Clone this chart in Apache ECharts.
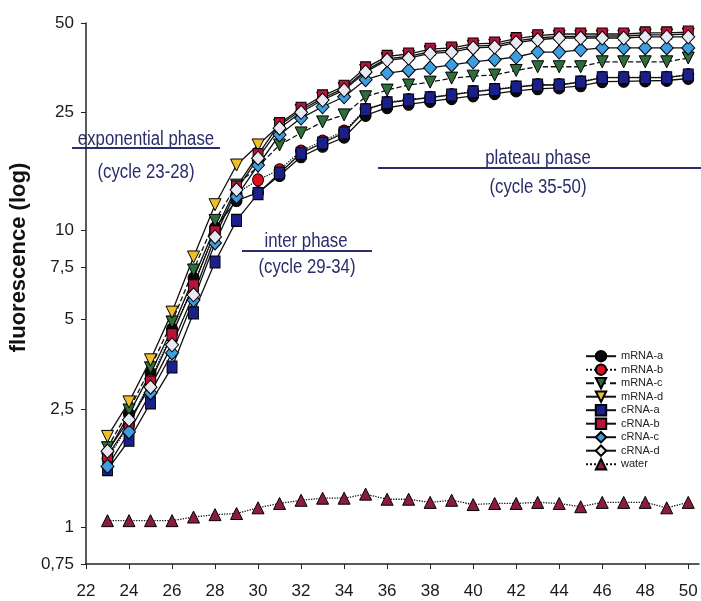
<!DOCTYPE html>
<html>
<head>
<meta charset="utf-8">
<script src="https://cdn.jsdelivr.net/npm/echarts@6/dist/echarts.min.js"></script>
<style>
  html, body { margin: 0; padding: 0; background: #fff; }
  #chart { width: 701px; height: 601px; }
</style>
</head>
<body>
<div id="chart"></div>
<script>
// cycle numbers on the x axis
const cycles = [23, 24, 25, 26, 27, 28, 29, 30, 31, 32, 33, 34, 35, 36, 37, 38, 39, 40, 41, 42, 43, 44, 45, 46, 47, 48, 49, 50]

const mRNA_a = [1.78, 2.40, 3.30, 4.65, 6.9, 10.2, 12.6, 13.4, 15.3, 17.7, 19.2, 20.6, 24.4, 25.9, 26.6, 27.2, 27.8, 28.4, 28.9, 29.5, 30.0, 30.2, 30.7, 31.7, 31.8, 31.9, 32.0, 32.5]
const mRNA_b = [1.70, 2.21, 3.13, 4.51, 6.54, 9.88, 13.3, 14.8, 16.0, 18.5, 20.0, 21.6, 25.6, 27.0, 27.6, 28.1, 28.7, 29.4, 29.9, 30.5, 31.0, 31.0, 31.7, 32.8, 32.8, 32.8, 32.8, 33.5]
const mRNA_c = [1.85, 2.48, 3.44, 4.91, 7.35, 10.8, 14.2, 16.4, 19.4, 21.3, 23.2, 24.5, 28.2, 29.7, 30.9, 31.6, 32.6, 33.1, 33.4, 34.6, 35.6, 35.6, 35.6, 37.0, 37.0, 37.0, 37.0, 38.1]
const mRNA_d = [2.02, 2.64, 3.66, 5.30, 8.13, 12.2, 16.6, 19.4, 22.6, 25.4, 27.9, 30.1, 34.6, 37.9, 38.6, 40.0, 40.5, 41.8, 42.1, 43.5, 44.5, 45.1, 45.1, 45.2, 45.2, 45.6, 45.6, 45.9]
const cRNA_a = [1.56, 1.96, 2.62, 3.46, 5.27, 7.82, 10.8, 13.3, 15.6, 18.2, 19.7, 21.3, 25.5, 26.9, 27.5, 28.0, 28.6, 29.3, 29.8, 30.4, 30.9, 30.9, 31.6, 32.7, 32.7, 32.7, 32.7, 33.4]
const cRNA_b = [1.74, 2.22, 3.08, 4.45, 6.5, 9.9, 14.0, 18.0, 22.9, 25.8, 28.4, 30.6, 35.3, 38.6, 39.3, 40.8, 41.2, 42.5, 42.8, 44.3, 45.3, 45.9, 45.9, 45.9, 45.9, 46.3, 46.3, 46.6]
const cRNA_c = [1.60, 2.09, 2.83, 3.86, 5.82, 9.07, 13.0, 16.6, 21.0, 23.9, 26.1, 28.2, 32.2, 33.9, 34.6, 35.3, 36.1, 37.0, 37.6, 38.4, 39.9, 39.9, 40.6, 41.2, 41.2, 41.2, 41.2, 41.2]
const cRNA_d = [1.80, 2.30, 2.96, 4.11, 6.06, 9.5, 13.7, 17.5, 22.1, 25.0, 27.5, 29.7, 34.2, 37.5, 38.1, 39.5, 39.9, 41.2, 41.5, 42.9, 43.9, 44.5, 44.5, 44.5, 44.5, 44.9, 44.9, 44.9]
const water = [1.05, 1.05, 1.05, 1.05, 1.08, 1.10, 1.11, 1.16, 1.20, 1.23, 1.25, 1.25, 1.29, 1.24, 1.24, 1.21, 1.23, 1.19, 1.20, 1.20, 1.21, 1.20, 1.17, 1.21, 1.21, 1.21, 1.16, 1.21]

const xTicks = [22, 24, 26, 28, 30, 32, 34, 36, 38, 40, 42, 44, 46, 48, 50]
const yTicks = [0.75, 1, 2.5, 5, 7.5, 10, 25, 50]

const FONT = '"Liberation Sans", Arial, sans-serif'
const NAVY = '#2b2d6c'

function pairs(vals) {
  return vals.map((v, i) => [cycles[i], v])
}

function makeSeries(name, vals, symbol, size, color, lineType, rotate) {
  return {
    name: name,
    type: 'line',
    data: pairs(vals),
    symbol: symbol,
    symbolSize: size,
    symbolRotate: rotate || 0,
    lineStyle: { color: '#111', width: 1.3, type: lineType },
    itemStyle: { color: color, borderColor: '#000', borderWidth: 1 },
    emphasis: { disabled: true },
    animation: false
  }
}

// annotation text, squeezed a little to look like the narrow face of the original
function note(text, x, y) {
  return {
    type: 'text', x: x, y: y, scaleX: 0.84,
    style: { text: text, fill: NAVY, font: '20px ' + FONT, align: 'center', verticalAlign: 'middle' }
  }
}

const chart = echarts.init(document.getElementById('chart'))

const option = {
  backgroundColor: '#fff',
  grid: { left: 72, right: 2, top: 23, bottom: 37 },
  legend: {
    orient: 'vertical',
    left: 585,
    top: 350,
    padding: 0,
    itemWidth: 30,
    itemHeight: 13,
    itemGap: 1.1,
    textStyle: { fontFamily: FONT, fontSize: 11, color: '#222', lineHeight: 12 },
    data: ['mRNA-a', 'mRNA-b', 'mRNA-c', 'mRNA-d', 'cRNA-a', 'cRNA-b', 'cRNA-c', 'cRNA-d', 'water']
  },
  xAxis: {
    type: 'value',
    min: 22,
    max: 50.5,
    axisLine: { lineStyle: { color: '#222', width: 1.5 } },
    axisTick: { length: 5, customValues: xTicks, lineStyle: { color: '#222' } },
    axisLabel: { customValues: xTicks, margin: 19, fontFamily: FONT, fontSize: 17, color: '#1a1a1a' },
    splitLine: { show: false }
  },
  yAxis: {
    type: 'log',
    logBase: 10,
    min: 0.75,
    max: 50,
    name: 'fluorescence (log)',
    nameLocation: 'middle',
    nameGap: 48,
    nameTextStyle: {
      fontFamily: FONT,
      fontWeight: 'bold',
      fontSize: 22,
      color: '#111',
      padding: [0, 0, 0, 72]
    },
    axisLine: { show: true, lineStyle: { color: '#222', width: 1.5 } },
    axisTick: { show: true, length: 5, customValues: yTicks, lineStyle: { color: '#222' } },
    axisLabel: {
      customValues: yTicks,
      margin: 12,
      fontFamily: FONT,
      fontSize: 17,
      color: '#1a1a1a',
      formatter: v => String(v).replace('.', ',')
    },
    splitLine: { show: false },
    minorTick: { show: false }
  },
  graphic: [
    // phase annotations
    { type: 'line', shape: { x1: 72, y1: 148, x2: 220, y2: 148 }, style: { stroke: NAVY, lineWidth: 2 } },
    note('exponential phase', 146, 139),
    note('(cycle 23-28)', 146, 172),
    { type: 'line', shape: { x1: 242, y1: 251, x2: 372, y2: 251 }, style: { stroke: NAVY, lineWidth: 2 } },
    note('inter phase', 306, 241),
    note('(cycle 29-34)', 307, 267),
    { type: 'line', shape: { x1: 378, y1: 168, x2: 701, y2: 168 }, style: { stroke: NAVY, lineWidth: 2 } },
    note('plateau phase', 538, 158),
    note('(cycle 35-50)', 538, 187)
  ],
  series: [
    makeSeries('mRNA-a', mRNA_a, 'circle', [11, 12], '#0a0a0a', 'solid'),
    makeSeries('mRNA-b', mRNA_b, 'circle', [11, 12], '#e2101c', 'dotted'),
    makeSeries('mRNA-c', mRNA_c, 'triangle', [12, 12], '#2f6e3c', 'dashed', 180),
    makeSeries('mRNA-d', mRNA_d, 'triangle', [12, 12], '#efbf2a', 'solid', 180),
    makeSeries('cRNA-a', cRNA_a, 'rect', [10, 12], '#1b1f8a', 'solid'),
    makeSeries('cRNA-b', cRNA_b, 'rect', [10, 12], '#b8143a', 'solid'),
    makeSeries('cRNA-c', cRNA_c, 'diamond', [13, 14], '#3d9ee2', 'solid'),
    makeSeries('cRNA-d', cRNA_d, 'diamond', [13, 14], '#e9e9f1', 'solid'),
    makeSeries('water', water, 'triangle', [12, 12], '#8c1c3c', 'dotted')
  ]
}

chart.setOption(option)
</script>
</body>
</html>
